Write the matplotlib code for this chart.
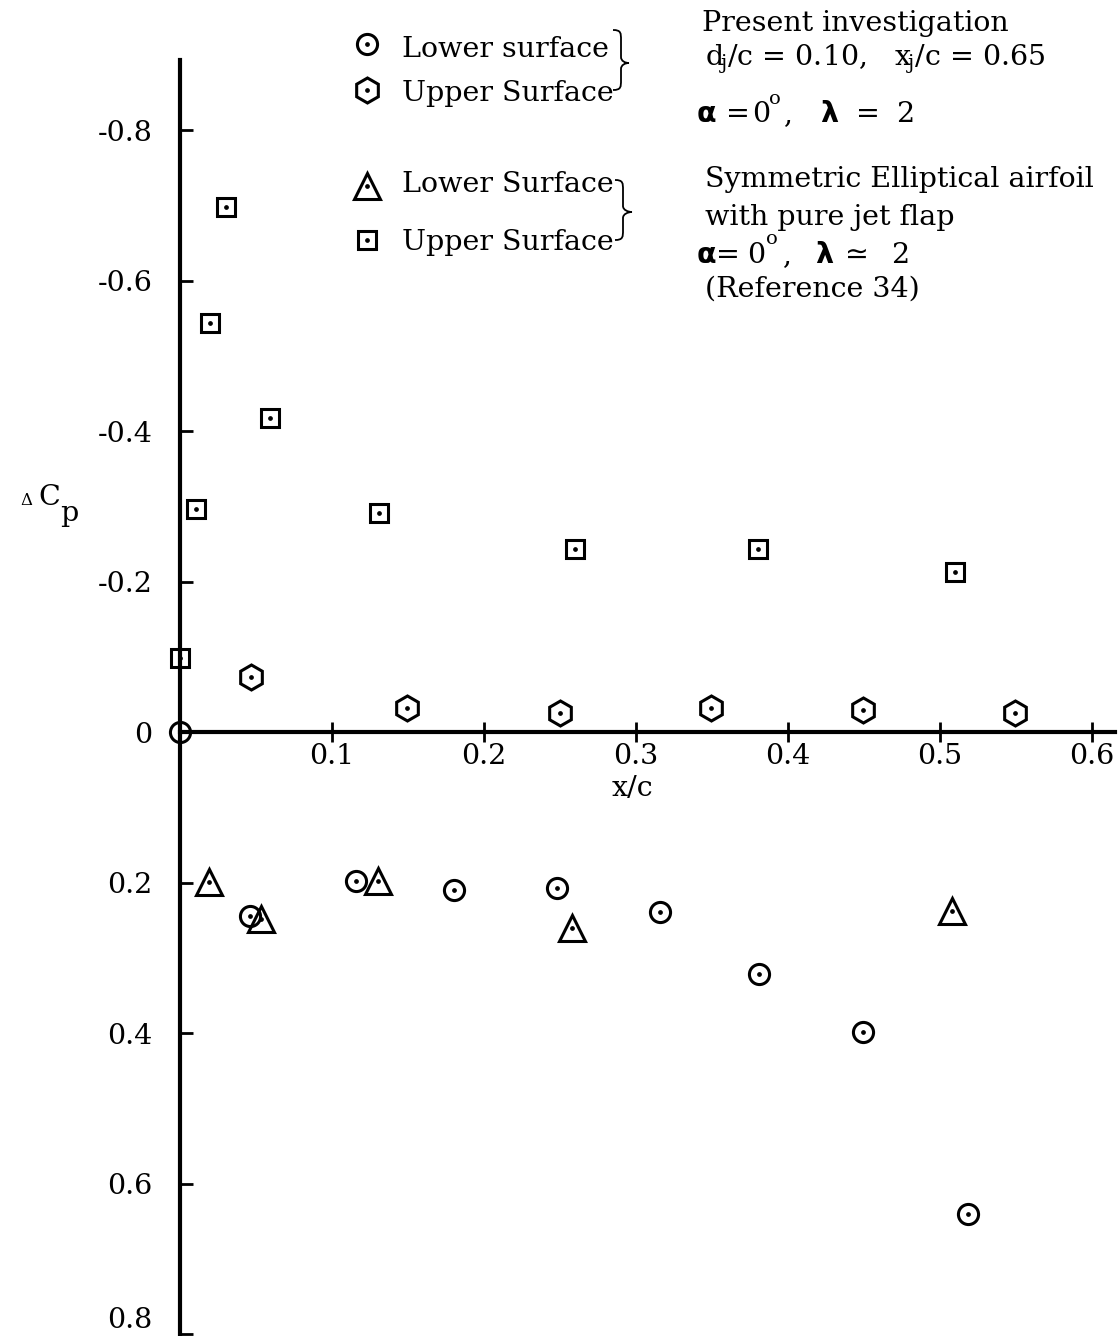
import matplotlib
matplotlib.use("Agg")
import matplotlib.pyplot as plt
from matplotlib.lines import Line2D
from matplotlib.path import Path
from matplotlib.patches import PathPatch

W, H = 1119, 1336

# Present investigation (dj/c = 0.10, xj/c = 0.65)
present_lower_x = [0.0, 0.046, 0.116, 0.180, 0.248, 0.316, 0.381, 0.449, 0.518]
present_lower_cp = [0.0, 0.244, 0.198, 0.210, 0.207, 0.239, 0.321, 0.399, 0.640]
present_upper_x = [0.047, 0.149, 0.250, 0.349, 0.449, 0.549]
present_upper_cp = [-0.074, -0.032, -0.025, -0.032, -0.030, -0.025]

# Symmetric elliptical airfoil with pure jet flap (Reference 34)
ref_lower_x = [0.019, 0.053, 0.130, 0.258, 0.508]
ref_lower_cp = [0.199, 0.248, 0.198, 0.260, 0.238]
ref_upper_x = [0.0, 0.0105, 0.020, 0.030, 0.059, 0.131, 0.260, 0.380, 0.510]
ref_upper_cp = [-0.098, -0.296, -0.544, -0.698, -0.418, -0.292, -0.243, -0.243, -0.213]

x_ticks = [0.1, 0.2, 0.3, 0.4, 0.5, 0.6]
x_tick_labels = ["0.1", "0.2", "0.3", "0.4", "0.5", "0.6"]
y_ticks = [-0.8, -0.6, -0.4, -0.2, 0.0, 0.2, 0.4, 0.6, 0.8]
y_tick_labels = ["-0.8", "-0.6", "-0.4", "-0.2", "0", "0.2", "0.4", "0.6", "0.8"]

SERIF = "DejaVu Serif"
FS = 20.5
plt.rcParams["font.family"] = SERIF
plt.rcParams["mathtext.fontset"] = "dejavuserif"

fig = plt.figure(figsize=(W / 100, H / 100), dpi=100)


def fxy(x, y):
    """pixel position (from top-left) -> figure fraction"""
    return x / W, 1 - y / H


ax = fig.add_axes([180 / W, (H - 1334) / H, (1115 - 180) / W, (1334 - 60) / H])
ax.set_xlim(0, 0.615)
ax.set_ylim(0.8, -0.8935)

for s in ("top", "right"):
    ax.spines[s].set_visible(False)
ax.spines["left"].set_position(("data", 0))
ax.spines["bottom"].set_position(("data", 0))
ax.spines["left"].set_linewidth(3.0)
ax.spines["bottom"].set_linewidth(3.0)

ax.set_xticks(x_ticks)
ax.set_xticklabels(x_tick_labels, fontsize=FS, family=SERIF)
ax.set_yticks(y_ticks)
ax.set_yticklabels(y_tick_labels, fontsize=FS, family=SERIF)
ax.tick_params(axis="x", direction="inout", length=14, width=2.0, pad=1)
ax.tick_params(axis="y", direction="in", length=9, width=2.0, pad=20)
# keep the lowest y label inside the figure, sitting on its tick
ax.get_yticklabels()[-1].set_va("bottom")

mk = dict(ls="none", mfc="none", mec="black", mew=2.2, clip_on=False, zorder=3)
dot = dict(ls="none", marker="o", ms=2.4, mfc="black", mec="black", clip_on=False, zorder=4)

ax.plot(present_lower_x, present_lower_cp, marker="o", ms=14.5, **mk)
ax.plot(present_lower_x, present_lower_cp, **dot)
ax.plot(present_upper_x, present_upper_cp, marker="h", ms=18, **mk)
ax.plot(present_upper_x, present_upper_cp, **dot)
ax.plot(ref_lower_x, ref_lower_cp, marker="^", ms=19, **mk)
ax.plot(ref_lower_x, ref_lower_cp, **dot)
ax.plot(ref_upper_x, ref_upper_cp, marker="s", ms=13, **mk)
ax.plot(ref_upper_x, ref_upper_cp, **dot)

# axis titles
fig.text(*fxy(632, 789), "x/c", fontsize=FS, ha="center", va="center")
fig.text(*fxy(20, 505), "Δ", fontsize=12, ha="left", va="baseline")
fig.text(*fxy(38, 505), "C", fontsize=FS, ha="left", va="baseline")
fig.text(*fxy(60, 521), "p", fontsize=FS, ha="left", va="baseline")

# key: markers with labels
key = [("o", 14.5, 367, 44, "Lower surface", 57),
       ("h", 18, 367, 90, "Upper Surface", 101),
       ("^", 19, 367, 186, "Lower Surface", 192),
       ("s", 13, 367, 240, "Upper Surface", 250)]
for m, ms, x, y, label, base in key:
    fx, fy = fxy(x, y)
    fig.add_artist(Line2D([fx], [fy], marker=m, ms=ms, ls="none", mfc="none",
                          mec="black", mew=2.2, transform=fig.transFigure))
    fig.add_artist(Line2D([fx], [fy], marker="o", ms=2.4, ls="none", mfc="black",
                          mec="black", transform=fig.transFigure))
    fig.text(*fxy(402, base), label, fontsize=FS, ha="left", va="baseline")


def brace(x0, ytop, ybot, xtip, ymid):
    xs = x0 + 8
    verts = [(x0, ytop), (xs, ytop), (xs, ytop + 3), (xs, ytop + 10),
             (xs, ymid - 6),
             (xs, ymid - 2), (xtip - 4, ymid), (xtip, ymid),
             (xtip - 4, ymid), (xs, ymid + 2), (xs, ymid + 6),
             (xs, ybot - 10),
             (xs, ybot - 3), (xs, ybot), (x0, ybot)]
    codes = [Path.MOVETO, Path.CURVE4, Path.CURVE4, Path.CURVE4,
             Path.LINETO,
             Path.CURVE4, Path.CURVE4, Path.CURVE4,
             Path.CURVE4, Path.CURVE4, Path.CURVE4,
             Path.LINETO,
             Path.CURVE4, Path.CURVE4, Path.CURVE4]
    pts = [fxy(x, y) for x, y in verts]
    fig.add_artist(PathPatch(Path(pts, codes), fill=False, lw=1.3,
                             ec="black", transform=fig.transFigure))


brace(613, 30, 90, 629, 63)
brace(615, 180, 240, 632, 212)

# case descriptions
def t(x, y, s, **kw):
    kw.setdefault("fontsize", FS)
    fig.text(*fxy(x, y), s, ha="left", va="baseline", **kw)


t(702, 31, "Present investigation")
t(705, 65, r"d$_{\!\mathregular{j}}$/c = 0.10,   "
           r"x$_{\!\mathregular{j}}$/c = 0.65")
t(697, 122, "α", family="DejaVu Sans", fontweight="bold")
t(726, 122, "=")
t(752, 122, "0")
t(769, 104, "o", fontsize=14)
t(783, 122, ",")
t(820, 122, "λ", family="DejaVu Sans", fontweight="bold")
t(856, 122, "=")
t(896, 122, "2")

t(705, 187, "Symmetric Elliptical airfoil")
t(705, 225, "with pure jet flap")
t(766, 244, "o", fontsize=14)
t(697, 263, "α", family="DejaVu Sans", fontweight="bold")
t(716, 263, "=")
t(747, 263, "0")
t(782, 263, ",")
t(815, 263, "λ", family="DejaVu Sans", fontweight="bold")
t(845, 263, "≃", family="DejaVu Sans")
t(891, 263, "2")
t(705, 297, "(Reference 34)")

fig.savefig("out.png", dpi=100)
